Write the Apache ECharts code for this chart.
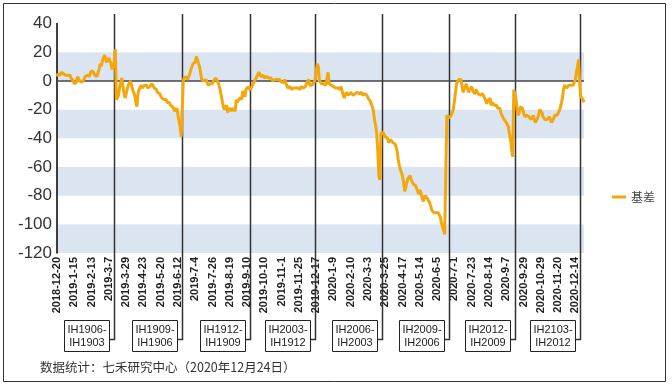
<!DOCTYPE html>
<html><head><meta charset="utf-8">
<script src="https://cdn.jsdelivr.net/npm/echarts@6/dist/echarts.min.js"></script>
<style>html,body{margin:0;padding:0;background:#fff}#c{width:672px;height:385px}</style>
</head><body><div id="c"></div>
<script>
// x-axis tick labels (every 16th trading day)
const tickLabels = ['2018-12-20','2019-1-15','2019-2-13','2019-3-7','2019-3-29','2019-4-23','2019-5-20','2019-6-12','2019-7-4','2019-7-26','2019-8-19','2019-9-10','2019-10-10','2019-11-1','2019-11-25','2019-12-17','2020-1-9','2020-2-10','2020-3-3','2020-3-25','2020-4-17','2020-5-14','2020-6-5','2020-7-1','2020-7-23','2020-8-14','2020-9-7','2020-9-29','2020-10-29','2020-11-20','2020-12-14'];
// exchange holidays (weekdays closed)
const holidays = ['2018-12-31','2019-1-1','2019-2-4','2019-2-5','2019-2-6','2019-2-7','2019-2-8','2019-4-5','2019-5-1','2019-5-2','2019-5-3','2019-6-7','2019-9-13','2019-10-1','2019-10-2','2019-10-3','2019-10-4','2019-10-7','2020-1-1','2020-1-24','2020-1-27','2020-1-28','2020-1-29','2020-1-30','2020-1-31','2020-4-6','2020-5-1','2020-5-4','2020-5-5','2020-6-25','2020-6-26','2020-10-1','2020-10-2','2020-10-5','2020-10-6','2020-10-7','2020-10-8'];
const firstDay = '2018-12-20', lastDay = '2020-12-24';

// basis values, by contract period
const seg1 = [3,5,6,4,6,7,5,6,4,5, 4,3,4,2,1,0,-2,-3,-1,3, 2,0,1,-1,-1,1,3,2,4,5, 3,6,5,7,6,4,5,3,4,8, 12,10,14,16,18,15,13,12,16,15, 12,8,11,13,22];
const seg2 = [-13,-14,-10,-4,-1, 2,-4,-8,-12,-9,-6,-3,-2,0,-3, -6,-8,-10,-15,-18,-9,-6,-5,-3,-5, -4,-3,-4,-3,-5,-4,-4,-3,-2,-2, -5,-4,-6,-8,-7,-9,-10,-12,-11,-13, -14,-13,-15,-16,-15,-17,-16,-18,-19,-21, -20,-19,-24,-28,-32,-39,-38];
const seg3 = [1,0,3,4,1,0,5,8,10,12, 11,13,17,15,12,10,11,1,1,0, -1,1,0,-3,-3,-2,-1,-2,0,1, 2,2,-1,-3,-6,-10,-14,-18,-20,-19, -17,-22,-21,-19,-20,-21,-19,-20,-21,-13, -15,-14,-12,-13,-13,-7,-9,-11,-6,-5, -4,-6,-5];
const seg4 = [-5,-3,-2,0,1,3,4,6,5,3, 3,4,2,1,3,3,2,3,2,3, 0,1,1,2,1,0,1,0,-1,-2, -1,1,-2,-3,-5,-5,-4,-6,-5,-5, -6,-5,-4,-5,-5,-6,-4,-3,-5,-4, -4,-2,-1,1,-3,-3,-3,-2,-1,1];
const seg5 = [1,12,10,0,-1,-2,-3,-2,-2,-3, -2,6,-2,-2,-3,-3,-4,-4,-5,-5, -5,-6,-6,-4,-7,-10,-12,-13,-8,-9, -10,-9,-8,-7,-10,-9,-9,-8,-8,-7, -9,-9,-8,-10,-9,-9,-10,-10,-12,-13, -14,-16,-18,-21,-27,-31,-36,-48,-66,-69, -36,-35];
const seg6 = [-36,-37,-39,-39,-40,-43,-42,-41, -42,-43,-43,-44,-46,-49,-55,-59,-62,-64, -67,-71,-77,-74,-71,-68,-67,-66,-69,-70, -72,-71,-73,-75,-77,-79,-76,-78,-81,-84, -82,-80,-81,-82,-82,-85,-87,-90,-91,-92, -91,-92,-93,-92,-93,-95,-99,-102,-104,-107, -106,-24,-24,-26];
const seg7 = [-26,-24,-25,-20,-14,-8, -2,-1,1,2,1,0,-8,-6,-4,-2, -5,-8,-6,-5,-4,-7,-7,-9,-6,-5, -9,-10,-10,-11,-9,-9,-12,-14,-16,-14, -13,-12,-17,-15,-15,-17,-18,-17,-19,-20, -19,-22,-24,-25,-27,-28,-29,-30,-32,-37, -41,-48,-53,-6];
const seg8 = [-7,-13,-20,-24,-22,-18, -17,-19,-22,-25,-26,-24,-25,-25,-26,-27, -28,-24,-27,-29,-28,-26,-24,-20,-19,-22, -25,-26,-27,-28,-27,-26,-25,-26,-29,-28, -26,-24,-25,-24,-23,-21,-19,-18,-12,-6, -3,-4,-5,-4,-3,-4,-3,-2,-3,-2, 1,6,10,15,-2,-11,-12,-13,-15];

// contract roll dates and their labels
const rollDates = ['2019-3-14','2019-6-18','2019-9-16','2019-12-16','2020-3-20','2020-6-22','2020-9-17','2020-12-18'];
const rollLabels = ['IH1906-\nIH1903','IH1909-\nIH1906','IH1912-\nIH1909','IH2003-\nIH1912','IH2006-\nIH2003','IH2009-\nIH2006','IH2012-\nIH2009','IH2103-\nIH2012'];

const seriesName = '基差';
const footnote = '数据统计：七禾研究中心（2020年12月24日）';

// build trading-day categories
function fmt(d){return d.getUTCFullYear()+'-'+(d.getUTCMonth()+1)+'-'+d.getUTCDate();}
function parse(s){const p=s.split('-').map(Number);return new Date(Date.UTC(p[0],p[1]-1,p[2]));}
const hol = new Set(holidays);
const categories = [];
for (let t = parse(firstDay).getTime(); t <= parse(lastDay).getTime(); t += 86400000) {
  const d = new Date(t), wd = d.getUTCDay(), s = fmt(d);
  if (wd === 0 || wd === 6 || hol.has(s)) continue;
  categories.push(s);
}
const basis = [].concat(seg1,seg2,seg3,seg4,seg5,seg6,seg7,seg8);
const tickSet = new Set(tickLabels);

const chart = echarts.init(document.getElementById('c'), null, {renderer:'canvas'});
const FONT = '"Liberation Sans", Arial, sans-serif';
chart.setOption({
  animation: false,
  backgroundColor: '#fff',
  grid: {left: 57, right: 88, top: 23.5, bottom: 132, containLabel: false},
  legend: {
    data: [seriesName], left: 607, top: 186, icon: 'rect', itemWidth: 14, itemHeight: 3, itemGap: 10,
    textStyle: {fontSize: 12, color: '#444', fontFamily: '"Noto Sans CJK SC", sans-serif'}
  },
  xAxis: {
    type: 'category', data: categories, boundaryGap: false,
    axisLine: {show: false}, axisTick: {show: false}, splitLine: {show: false},
    axisLabel: {
      interval: (i, v) => tickSet.has(v), rotate: 90, margin: 4,
      fontSize: 11, fontWeight: 'bold', color: '#222', fontFamily: FONT
    }
  },
  yAxis: {
    type: 'value', min: -120, max: 40, interval: 20,
    axisLine: {show: true, lineStyle: {color: '#000', width: 1.5}},
    axisTick: {show: false},
    splitLine: {show: false},
    splitArea: {show: true, areaStyle: {color: ['#dbe5f1', '#ffffff']}},
    axisLabel: {fontSize: 17, color: '#333', margin: 5, fontFamily: FONT}
  },
  series: [{
    name: seriesName, type: 'line', data: basis, showSymbol: false, symbol: 'none',
    lineStyle: {color: '#f4a70d', width: 3}, itemStyle: {color: '#f4a70d'}, z: 5,
    markLine: {
      silent: true, symbol: 'none', label: {show: false},
      lineStyle: {color: '#444', width: 1.5, type: 'solid'},
      data: [{yAxis: 0}], z: 3
    }
  }]
});

// annotations built from data positions
const g = [];
g.push({type: 'rect', shape: {x: 3.5, y: 3.5, width: 662, height: 378}, style: {fill: 'none', stroke: '#333', lineWidth: 1}, z: 100});
rollDates.forEach((d, i) => {
  const x = Math.round(chart.convertToPixel({xAxisIndex: 0}, d)) + 0.5;
  const boxR = x - 5, boxW = 45, boxT = 320.5, boxH = 31;
  const cy = boxT + 19;
  g.push({type: 'polyline', shape: {points: [[x, 14], [x, cy], [boxR, cy]]}, style: {stroke: '#333', lineWidth: 1.5, fill: 'none'}, z: 1});
  g.push({type: 'rect', shape: {x: boxR - boxW, y: boxT, width: boxW, height: boxH}, style: {fill: '#fff', stroke: '#222', lineWidth: 1}, z: 10});
  g.push({type: 'text', x: boxR - boxW / 2, y: boxT + boxH / 2 + 0.5, style: {text: rollLabels[i], fill: '#222', font: '11px ' + FONT, align: 'center', verticalAlign: 'middle', lineHeight: 13}, z: 11});
});
g.push({type: 'text', x: 40, y: 367, style: {text: footnote, fill: '#333', font: '12.5px "Noto Sans CJK SC", sans-serif', align: 'left', verticalAlign: 'middle'}, z: 11});
chart.setOption({graphic: g});
</script></body></html>
